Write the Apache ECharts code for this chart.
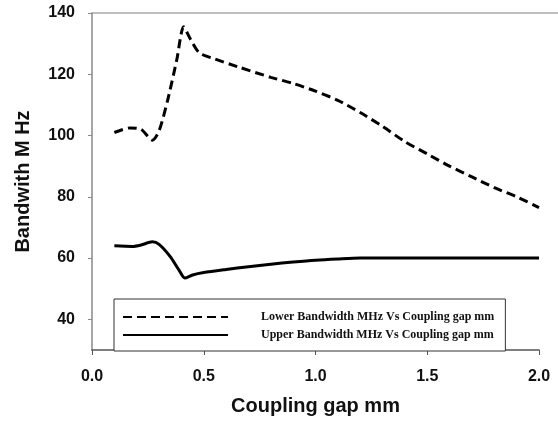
<!DOCTYPE html>
<html>
<head>
<meta charset="utf-8">
<script src="https://cdn.jsdelivr.net/npm/echarts@6/dist/echarts.min.js"></script>
<style>
  html, body { margin: 0; padding: 0; background: #fff; }
  #chart { width: 558px; height: 424px; }
</style>
</head>
<body>
<div id="chart"></div>
<script>
// Coupling gap (mm) vs bandwidth (MHz)
const lowerGap = [0.1, 0.17, 0.22, 0.27, 0.30, 0.34, 0.38, 0.41, 0.44, 0.48, 0.55, 0.65, 0.8, 0.9, 1.0, 1.1, 1.2, 1.3, 1.4, 1.5, 1.6, 1.7, 1.8, 1.9, 2.0]
const lowerBw  = [101, 102.5, 102, 98.5, 101.5, 112, 125, 135.5, 131.5, 127, 125, 122.5, 119, 117, 114.5, 111.5, 107.5, 103, 98, 94, 90, 86.5, 83, 80, 76.5]

const upperGap = [0.1, 0.18, 0.22, 0.27, 0.30, 0.35, 0.39, 0.415, 0.45, 0.5, 0.6, 0.7, 0.8, 0.9, 1.0, 1.1, 1.2, 1.4, 1.6, 1.8, 2.0]
const upperBw  = [64, 63.8, 64.3, 65.3, 64.5, 60.5, 56, 53.5, 54.5, 55.3, 56.3, 57.2, 58, 58.7, 59.3, 59.7, 60, 60, 60, 60, 60]

const yTicks = [40, 60, 80, 100, 120, 140]
const lowerName = 'Lower Bandwidth MHz Vs Coupling gap mm'
const upperName = 'Upper Bandwidth MHz Vs Coupling gap mm'

const pairs = (xs, ys) => xs.map((x, i) => [x, ys[i]])

const chart = echarts.init(document.getElementById('chart'))

chart.setOption({
  animation: false,
  grid: { left: 92, right: 19, top: 13, bottom: 74 },
  // top frame line, runs to the page edge like the original
  graphic: [{
    type: 'line',
    shape: { x1: 92, y1: 13, x2: 558, y2: 13 },
    style: { stroke: '#aaaaaa', lineWidth: 1.5 },
    z: 0
  }],
  xAxis: {
    type: 'value',
    min: 0, max: 2, interval: 0.5,
    name: 'Coupling gap mm',
    nameLocation: 'middle',
    nameGap: 46,
    nameTextStyle: { fontFamily: 'Liberation Sans', fontWeight: 'bold', fontSize: 20, color: '#111' },
    axisLine: { lineStyle: { color: '#555', width: 1.5 } },
    axisTick: { length: 5, lineStyle: { color: '#555' } },
    axisLabel: {
      margin: 19,
      formatter: v => v.toFixed(1),
      fontFamily: 'Liberation Sans', fontWeight: 'bold', fontSize: 16, color: '#111'
    },
    splitLine: { show: false }
  },
  yAxis: {
    type: 'value',
    min: 30, max: 140,
    name: 'Bandwith M Hz',
    nameLocation: 'middle',
    nameGap: 59,
    nameTextStyle: { fontFamily: 'Liberation Sans', fontWeight: 'bold', fontSize: 20, color: '#111' },
    axisLine: { show: true, lineStyle: { color: '#888', width: 1.5 } },
    axisTick: { show: true, length: 4, customValues: yTicks, lineStyle: { color: '#888' } },
    axisLabel: {
      margin: 17,
      customValues: yTicks,
      fontFamily: 'Liberation Sans', fontWeight: 'bold', fontSize: 16, color: '#111'
    },
    splitLine: { show: false }
  },
  legend: {
    orient: 'vertical',
    left: 114, top: 299,
    padding: [12, 11, 10, 8],
    itemWidth: 105, itemHeight: 10, itemGap: 6,
    borderColor: '#333', borderWidth: 1,
    backgroundColor: '#fff',
    // hide the marker dot, keep only the line sample
    itemStyle: { opacity: 0, borderWidth: 0 },
    textStyle: {
      fontFamily: 'Liberation Serif', fontWeight: 'bold', fontSize: 12, color: '#111',
      padding: [0, 0, 0, 28]
    },
    data: [lowerName, upperName]
  },
  series: [
    {
      name: lowerName,
      type: 'line',
      data: pairs(lowerGap, lowerBw),
      smooth: 0.25,
      symbol: 'none',
      lineStyle: { color: '#000', width: 3, type: [9, 5] },
      itemStyle: { color: '#000' }
    },
    {
      name: upperName,
      type: 'line',
      data: pairs(upperGap, upperBw),
      smooth: 0.25,
      symbol: 'none',
      lineStyle: { color: '#000', width: 3 },
      itemStyle: { color: '#000' }
    }
  ]
})
</script>
</body>
</html>
